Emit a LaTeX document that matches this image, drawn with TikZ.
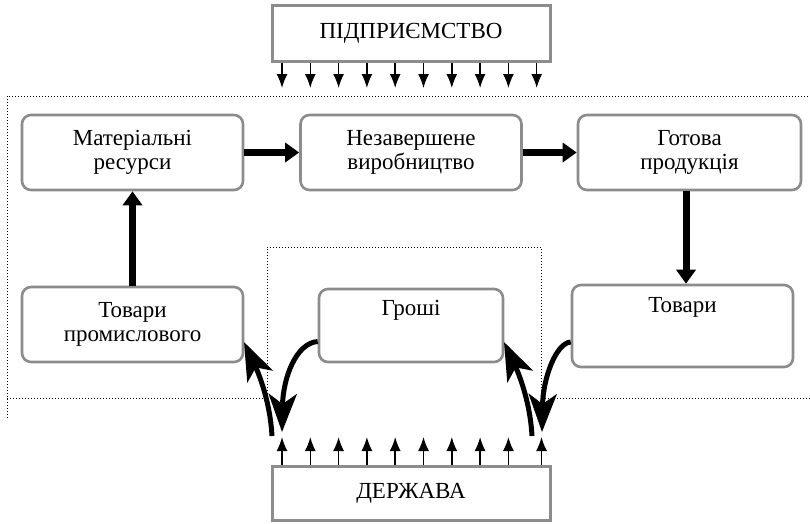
\documentclass[tikz,border=0pt]{standalone}
\usepackage{fontspec}
\setmainfont{Liberation Serif}
\usetikzlibrary{arrows.meta,calc}
\definecolor{boxgray}{gray}{0.55}
\begin{document}
\begin{tikzpicture}[x=1pt,y=-1pt,
  roundbox/.style={draw=boxgray,line width=2.6pt,rounded corners=9pt,fill=white,
    minimum width=221pt,minimum height=75pt,align=center,
    font=\fontsize{23}{23.5}\selectfont,inner sep=0pt},
  flatbox/.style={draw=boxgray,line width=3pt,fill=white,minimum width=278pt,
    minimum height=56pt,font=\fontsize{23}{26}\selectfont,inner sep=0pt},
  boxtext/.style={font=\fontsize{23}{24}\selectfont,inner sep=0pt,anchor=base},
  fatarrow/.style={line width=7pt,-{Triangle[length=14pt,width=19pt]}},
  smallarrow/.style={line width=1.5pt,-{Latex[length=14pt,width=11pt]}},
  bentarrow/.style={line width=5pt,-{Stealth[length=38pt,width=28pt,inset=10pt]}},
  dotline/.style={line width=1pt,dash pattern=on 1pt off 2pt}
]
\useasboundingbox (0,0) rectangle (810,523);

% dotted frames
\draw[dotline] (7,418) -- (7,96) -- (810,96);
\draw[dotline] (7,398) -- (267,398) -- (267,247) -- (541,247) -- (541,398) -- (810,398);

% top and bottom boxes
\node[flatbox] (firm) at (411,33.5) {ПІДПРИЄМСТВО};
\node[flatbox,minimum height=54pt] (state) at (411,493) {ДЕРЖАВА};

% rounded boxes
\node[roundbox] (mat) at (132.5,152.5) {Матеріальні\\ресурси};
\node[roundbox] (wip) at (411,152.5) {Незавершене\\виробництво};
\node[roundbox,minimum width=223pt] (fin) at (689.5,152.5) {Готова\\продукція};
\node[roundbox] (ind) at (132.5,324.5) {Товари\\промислового};
\node[roundbox,minimum width=184pt,minimum height=73pt] (money) at (411,325.5) {};
\node[roundbox,minimum height=82pt] (goods) at (682.5,326) {};
\node[boxtext] (moneytext) at (411,315) {Гроші};
\node[boxtext] (goodstext) at (682.5,312) {Товари};

% small arrows
\foreach \x [count=\i] in {282,310.3,338.6,366.9,395.2,423.5,451.8,480.1,508.4,536.7}{
  \coordinate (d\i) at (\x,88);
  \draw[smallarrow] (d\i |- firm.south) -- (d\i);
}
\foreach \x [count=\i] in {282,310.3,338.6,366.9,395.2,423.5,451.8,480.1,508.4,541.5}{
  \coordinate (u\i) at (\x,437);
  \draw[smallarrow] (u\i |- state.north) -- (u\i);
}

% thick arrows
\draw[fatarrow] (mat.east) -- (wip.west);
\draw[fatarrow] (wip.east) -- (fin.west);
\draw[fatarrow] (ind.north) -- (mat.south);
\coordinate (fs) at (686,190);
\draw[fatarrow] (fs |- fin.south) -- (fs |- goods.north);

% bent arrows
\coordinate (lstart) at (272,436);
\coordinate (ltip) at (282,432);
\coordinate (lup) at (244,342);
\coordinate (rstart) at (532,436);
\coordinate (rtip) at (542,432);
\coordinate (rup) at (504,342);
\draw[bentarrow] ([yshift=-16pt]money.west) .. controls (296,343) and (283,378) .. (ltip);
\draw[bentarrow] (lstart) .. controls (270,400) and (258,372) .. (lup);
\draw[bentarrow] ([yshift=-16pt]goods.west) .. controls (556,343) and (543,378) .. (rtip);
\draw[bentarrow] (rstart) .. controls (530,400) and (518,372) .. (rup);
\end{tikzpicture}
\end{document}
